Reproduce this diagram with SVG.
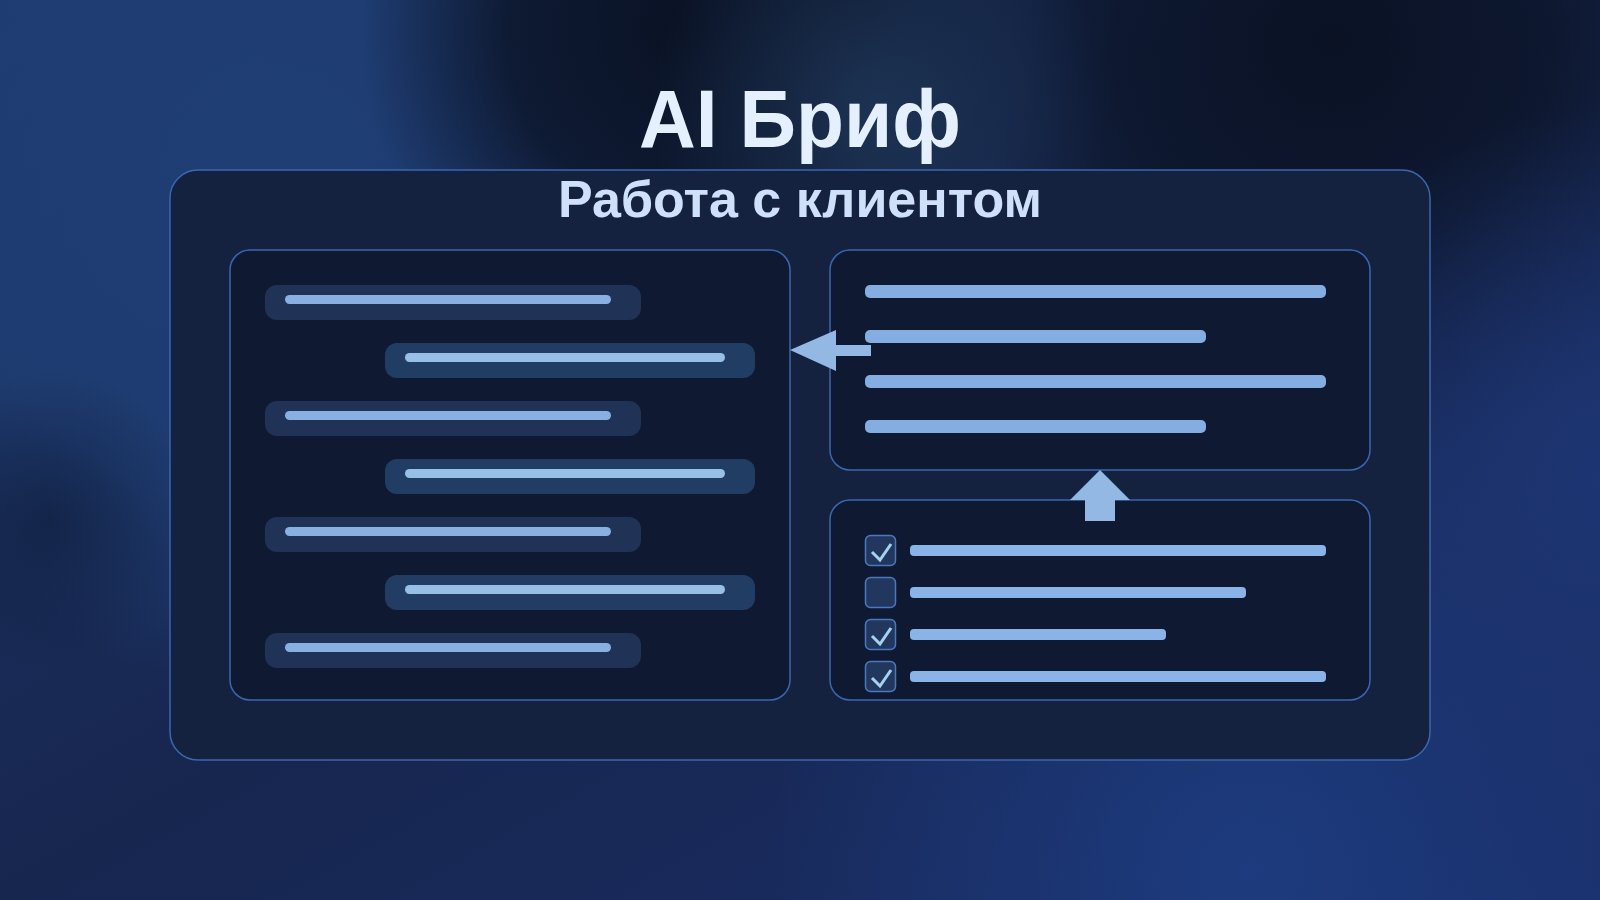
<svg xmlns="http://www.w3.org/2000/svg" width="1600" height="900" viewBox="0 0 1600 900">
<defs>
<linearGradient id="bg" x1="0" y1="0" x2="1" y2="1">
<stop offset="0" stop-color="#1c3668"/>
<stop offset="0.5" stop-color="#17264f"/>
<stop offset="1" stop-color="#1a2f6a"/>
</linearGradient>
<radialGradient id="lt1" cx="280" cy="190" r="500" gradientUnits="userSpaceOnUse">
<stop offset="0" stop-color="#1f3e74" stop-opacity="1"/>
<stop offset="0.65" stop-color="#1f3e74" stop-opacity="0.85"/>
<stop offset="1" stop-color="#1f3e74" stop-opacity="0"/>
</radialGradient>
<radialGradient id="dk1" cx="690" cy="30" r="330" gradientUnits="userSpaceOnUse">
<stop offset="0" stop-color="#0a1224" stop-opacity="1"/>
<stop offset="0.55" stop-color="#0a1224" stop-opacity="0.8"/>
<stop offset="1" stop-color="#0a1224" stop-opacity="0"/>
</radialGradient>
<radialGradient id="dk3" cx="1330" cy="40" r="430" gradientUnits="userSpaceOnUse">
<stop offset="0" stop-color="#0a1224" stop-opacity="1"/>
<stop offset="0.5" stop-color="#0a1224" stop-opacity="0.75"/>
<stop offset="1" stop-color="#0a1224" stop-opacity="0"/>
</radialGradient>
<radialGradient id="lt4" cx="880" cy="110" r="230" gradientUnits="userSpaceOnUse">
<stop offset="0" stop-color="#1d3354" stop-opacity="1"/>
<stop offset="1" stop-color="#1d3354" stop-opacity="0"/>
</radialGradient>
<radialGradient id="lt2" cx="1250" cy="870" r="480" gradientUnits="userSpaceOnUse">
<stop offset="0" stop-color="#1d3b7e" stop-opacity="1"/>
<stop offset="1" stop-color="#1d3b7e" stop-opacity="0"/>
</radialGradient>
<radialGradient id="lt3" cx="1620" cy="480" r="380" gradientUnits="userSpaceOnUse">
<stop offset="0" stop-color="#1d3674" stop-opacity="1"/>
<stop offset="1" stop-color="#1d3674" stop-opacity="0"/>
</radialGradient>
<radialGradient id="dk2" cx="50" cy="520" r="150" gradientUnits="userSpaceOnUse">
<stop offset="0" stop-color="#0e1a36" stop-opacity="0.6"/>
<stop offset="1" stop-color="#0e1a36" stop-opacity="0"/>
</radialGradient>
<style>
.frame{fill:#142240;stroke:#3b66b0;stroke-width:1.5}
.panel{fill:#0f1a32;stroke:#3b66b0;stroke-width:1.5}
.bubL{fill:#203357}
.bubR{fill:#223d64}
.lnL{fill:#88b0e0}
.lnR{fill:#98bfe6}
.ln{fill:#84ade2}
.cl{fill:#8ab4e8}
.cb{fill:#22375e;stroke:#4a78bf;stroke-width:1.5}
.ck{fill:none;stroke:#a6d2f2;stroke-width:3}
.arr{fill:#93b8e4}
.t1{font-family:"Liberation Sans",Arial,sans-serif;font-weight:bold;font-size:82px;fill:#e4efff}
.t2{font-family:"Liberation Sans",Arial,sans-serif;font-weight:bold;font-size:52px;fill:#cfe0fa}
</style>
</defs>
<rect width="1600" height="900" fill="url(#bg)"/>
<rect width="1600" height="900" fill="url(#lt1)"/>
<rect width="1600" height="900" fill="url(#lt2)"/>
<rect width="1600" height="900" fill="url(#dk1)"/>
<rect width="1600" height="900" fill="url(#dk3)"/>
<rect width="1600" height="900" fill="url(#lt3)"/>
<rect width="1600" height="900" fill="url(#lt4)"/>
<rect width="1600" height="900" fill="url(#dk2)"/>

<g id="title">
<text class="t1" x="800" y="147" text-anchor="middle" textLength="322" lengthAdjust="spacingAndGlyphs">AI Бриф</text>
</g>

<g id="frame">
<rect class="frame" x="170" y="170" width="1260" height="590" rx="28"/>
<text class="t2" x="800" y="217" text-anchor="middle">Работа с клиентом</text>
</g>

<g id="chat">
<rect class="panel" x="230" y="250" width="560" height="450" rx="20"/>
<rect class="bubL" x="265" y="285" width="376" height="35" rx="12"/>
<rect class="lnL" x="285" y="295" width="326" height="9" rx="4.5"/>
<rect class="bubR" x="385" y="343" width="370" height="35" rx="12"/>
<rect class="lnR" x="405" y="353" width="320" height="9" rx="4.5"/>
<rect class="bubL" x="265" y="401" width="376" height="35" rx="12"/>
<rect class="lnL" x="285" y="411" width="326" height="9" rx="4.5"/>
<rect class="bubR" x="385" y="459" width="370" height="35" rx="12"/>
<rect class="lnR" x="405" y="469" width="320" height="9" rx="4.5"/>
<rect class="bubL" x="265" y="517" width="376" height="35" rx="12"/>
<rect class="lnL" x="285" y="527" width="326" height="9" rx="4.5"/>
<rect class="bubR" x="385" y="575" width="370" height="35" rx="12"/>
<rect class="lnR" x="405" y="585" width="320" height="9" rx="4.5"/>
<rect class="bubL" x="265" y="633" width="376" height="35" rx="12"/>
<rect class="lnL" x="285" y="643" width="326" height="9" rx="4.5"/>
</g>

<g id="brief">
<rect class="panel" x="830" y="250" width="540" height="220" rx="20"/>
<rect class="ln" x="865" y="285" width="461" height="13" rx="5"/>
<rect class="ln" x="865" y="330" width="341" height="13" rx="5"/>
<rect class="ln" x="865" y="375" width="461" height="13" rx="5"/>
<rect class="ln" x="865" y="420" width="341" height="13" rx="5"/>
</g>

<g id="checklist">
<rect class="panel" x="830" y="500" width="540" height="200" rx="20"/>
<rect class="cb" x="865.5" y="535.5" width="30" height="30" rx="5"/>
<polyline class="ck" points="872,552 880,560 891,544"/>
<rect class="cl" x="910" y="545" width="416" height="11" rx="4"/>
<rect class="cb" x="865.5" y="577.5" width="30" height="30" rx="5"/>
<rect class="cl" x="910" y="587" width="336" height="11" rx="4"/>
<rect class="cb" x="865.5" y="619.5" width="30" height="30" rx="5"/>
<polyline class="ck" points="872,636 880,644 891,628"/>
<rect class="cl" x="910" y="629" width="256" height="11" rx="4"/>
<rect class="cb" x="865.5" y="661.5" width="30" height="30" rx="5"/>
<polyline class="ck" points="872,678 880,686 891,670"/>
<rect class="cl" x="910" y="671" width="416" height="11" rx="4"/>
</g>

<g id="connectors">
<polygon class="arr" points="790,350 836,330 836,345 871,345 871,356 836,356 836,371"/>
<polygon class="arr" points="1100,470 1130,500 1115,500 1115,521 1085,521 1085,500 1070,500"/>
</g>
</svg>
